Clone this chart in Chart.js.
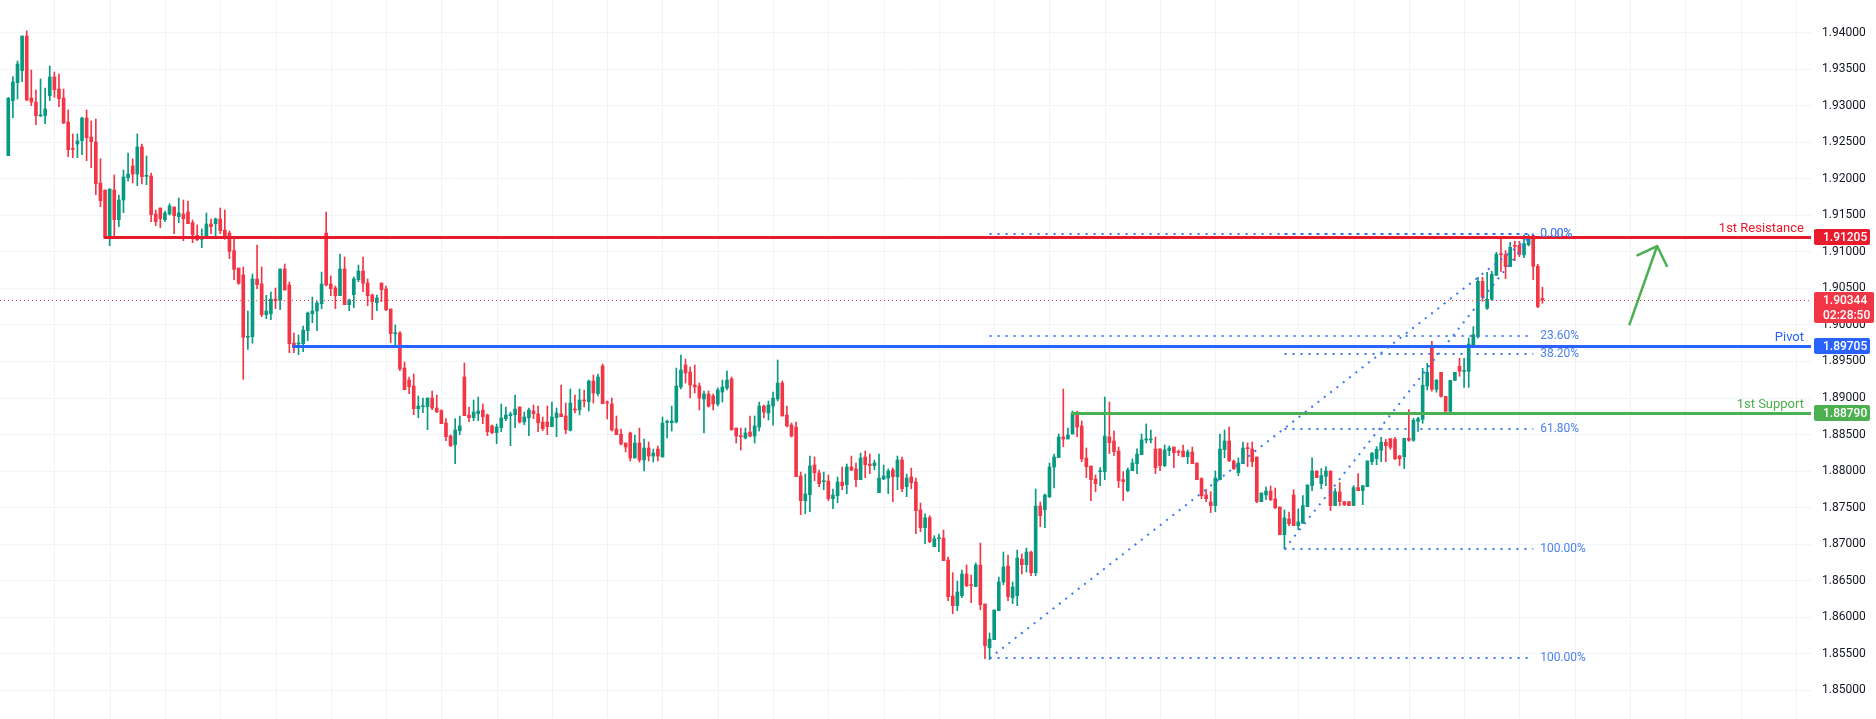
<!DOCTYPE html>
<html>
<head>
<meta charset="utf-8">
<script src="https://cdn.jsdelivr.net/npm/chart.js@4.4.1/dist/chart.umd.min.js"></script>
<style>
html,body{margin:0;padding:0;background:#ffffff;overflow:hidden}
canvas{display:block}
</style>
</head>
<body>
<canvas id="c" width="1876" height="719"></canvas>
<script>
// ---------------- DATA ----------------
const OPEN = [
1.92315,1.93068,1.93314,1.93478,1.93952,1.93104,1.93049,1.92858,1.92862,1.93136,
1.93391,1.93227,1.93104,1.92776,1.92411,1.92475,1.92520,1.92830,1.92570,1.92502,
1.91941,1.91845,1.91207,1.91845,1.91440,1.91709,1.92014,1.92174,1.92064,1.92434,
1.92032,1.92037,1.91517,1.91599,1.91440,1.91517,1.91613,1.91481,1.91517,1.91544,
1.91399,1.91225,1.91171,1.91180,1.91380,1.91385,1.91449,1.91298,1.91257,1.91016,
1.90778,1.90683,1.89830,1.89839,1.90628,1.90560,1.90140,1.90153,1.90354,1.90336,
1.90765,1.90546,1.89752,1.89739,1.89743,1.89921,1.90153,1.90190,1.90290,1.91257,
1.90559,1.90505,1.90400,1.90765,1.90277,1.90413,1.90619,1.90737,1.90573,1.90409,
1.90304,1.90573,1.90491,1.90217,1.89880,1.89889,1.89410,1.89246,1.89164,1.88854,
1.88881,1.88881,1.89000,1.88863,1.88827,1.88658,1.88480,1.88361,1.88553,1.89287,
1.88767,1.88731,1.88785,1.88836,1.88767,1.88617,1.88526,1.88594,1.88717,1.88758,
1.88772,1.88877,1.88671,1.88731,1.88822,1.88781,1.88671,1.88671,1.88608,1.88731,
1.88781,1.88754,1.88557,1.88849,1.88836,1.88972,1.88950,1.89232,1.89059,1.89438,
1.88936,1.88918,1.88576,1.88507,1.88384,1.88521,1.88179,1.88384,1.88152,1.88316,
1.88206,1.88302,1.88193,1.88667,1.88662,1.88671,1.89150,1.89451,1.89355,1.89178,
1.89164,1.88986,1.89055,1.89027,1.88918,1.89082,1.89137,1.89260,1.88589,1.88480,
1.88453,1.88535,1.88480,1.88603,1.88890,1.88795,1.88890,1.88986,1.89205,1.88767,
1.88630,1.88603,1.87933,1.87595,1.87677,1.88083,1.87974,1.87855,1.87864,1.87623,
1.87664,1.87851,1.87814,1.88056,1.88029,1.87883,1.88193,1.88097,1.88074,1.87705,
1.87892,1.87905,1.88015,1.87924,1.88152,1.87787,1.87919,1.87851,1.87468,1.87226,
1.87363,1.86966,1.87075,1.87085,1.86784,1.86291,1.86159,1.86296,1.86592,1.86442,
1.86419,1.86715,1.86182,1.85584,1.85694,1.86091,1.86483,1.86702,1.86268,1.86296,
1.86797,1.86720,1.86893,1.86610,1.87522,1.87472,1.87650,1.88056,1.88184,1.88467,
1.88439,1.88508,1.88795,1.88617,1.88179,1.88070,1.87892,1.87992,1.87992,1.88467,
1.88412,1.88275,1.87883,1.87733,1.88006,1.88102,1.88225,1.88426,1.88426,1.88303,
1.88303,1.88075,1.88280,1.88330,1.88266,1.88275,1.88198,1.88261,1.88111,1.87897,
1.87673,1.87577,1.87527,1.87883,1.88293,1.88412,1.88138,1.87979,1.88102,1.88316,
1.88303,1.88193,1.87582,1.87673,1.87728,1.87619,1.87509,1.87131,1.87345,1.87673,
1.87254,1.87286,1.87514,1.87801,1.88002,1.87828,1.87929,1.88002,1.87528,1.87714,
1.87582,1.87582,1.87528,1.87774,1.87733,1.87787,1.88129,1.88170,1.88284,1.88394,
1.88444,1.88435,1.88207,1.88198,1.88449,1.88421,1.88681,1.88709,1.89165,1.89694,
1.89119,1.89352,1.89023,1.88818,1.89242,1.89434,1.89365,1.89365,1.89721,1.89839,
1.90596,1.90227,1.90350,1.90678,1.90970,1.90961,1.90797,1.91084,1.91089,1.90957,
1.91098,1.91221,1.90802,1.90364
];
const HIGH = [
1.93113,1.93396,1.93610,1.93952,1.94021,1.93487,1.93213,1.93364,1.93241,1.93542,
1.93460,1.93432,1.93227,1.92940,1.92612,1.92612,1.92844,1.92940,1.92789,1.92817,
1.92274,1.91845,1.91859,1.92051,1.91777,1.92119,1.92352,1.92270,1.92612,1.92475,
1.92311,1.92078,1.91572,1.91599,1.91558,1.91658,1.91613,1.91736,1.91709,1.91695,
1.91435,1.91367,1.91312,1.91531,1.91449,1.91462,1.91599,1.91572,1.91285,1.91207,
1.90778,1.90792,1.90190,1.90696,1.91093,1.90792,1.90404,1.90450,1.90505,1.90765,
1.90833,1.90587,1.89889,1.89862,1.89985,1.90176,1.90381,1.90327,1.90723,1.91544,
1.90669,1.90532,1.90970,1.90929,1.90354,1.90655,1.90819,1.90929,1.90628,1.90423,
1.90409,1.90573,1.90532,1.90217,1.89998,1.89907,1.89492,1.89287,1.89328,1.89027,
1.89000,1.89000,1.89096,1.89041,1.88840,1.88717,1.88498,1.88717,1.88754,1.89479,
1.88877,1.88972,1.89013,1.88918,1.88781,1.88630,1.88644,1.88918,1.88877,1.88808,
1.89041,1.88877,1.88808,1.88863,1.88904,1.88890,1.88740,1.88890,1.88945,1.88863,
1.89178,1.88931,1.89123,1.89041,1.89123,1.89109,1.89246,1.89314,1.89328,1.89465,
1.88959,1.89000,1.88754,1.88576,1.88384,1.88535,1.88494,1.88589,1.88439,1.88398,
1.88302,1.88343,1.88740,1.88699,1.88890,1.89410,1.89588,1.89533,1.89424,1.89451,
1.89205,1.89096,1.89096,1.89055,1.89137,1.89246,1.89369,1.89287,1.88589,1.88589,
1.88589,1.88754,1.88754,1.88945,1.88904,1.88959,1.89082,1.89520,1.89232,1.88890,
1.88658,1.88671,1.87987,1.87960,1.88206,1.88193,1.88015,1.87987,1.87946,1.87755,
1.87919,1.88056,1.88097,1.88206,1.88111,1.88247,1.88275,1.88234,1.88152,1.88234,
1.88083,1.88029,1.88042,1.88206,1.88193,1.87960,1.88042,1.87905,1.87563,1.87417,
1.87390,1.87117,1.87139,1.87194,1.86825,1.86610,1.86496,1.86647,1.86715,1.86578,
1.86743,1.87016,1.86182,1.85785,1.86100,1.86551,1.86893,1.86852,1.86483,1.86920,
1.86866,1.86948,1.86907,1.87755,1.87577,1.87687,1.88111,1.88234,1.88508,1.89123,
1.88590,1.88822,1.88822,1.88686,1.88316,1.88070,1.87947,1.88047,1.89014,1.88945,
1.88549,1.88330,1.87992,1.88043,1.88166,1.88303,1.88508,1.88645,1.88562,1.88467,
1.88303,1.88357,1.88344,1.88330,1.88289,1.88357,1.88289,1.88330,1.88111,1.87910,
1.87746,1.87719,1.88002,1.88508,1.88562,1.88603,1.88152,1.88179,1.88398,1.88385,
1.88398,1.88193,1.87701,1.87783,1.87796,1.87769,1.87509,1.87468,1.87441,1.87746,
1.87482,1.87664,1.87810,1.88180,1.88002,1.88034,1.88061,1.88002,1.87760,1.87842,
1.87582,1.87582,1.87801,1.87965,1.87801,1.88139,1.88257,1.88335,1.88462,1.88435,
1.88444,1.88462,1.88216,1.88449,1.88841,1.88722,1.88736,1.89406,1.89475,1.89776,
1.89256,1.89352,1.89023,1.89242,1.89352,1.89543,1.89543,1.89821,1.89976,1.90651,
1.90651,1.90720,1.90733,1.90993,1.91207,1.91016,1.91130,1.91144,1.91144,1.91226,
1.91235,1.91235,1.90829,1.90514
];
const LOW = [
1.92315,1.92835,1.93090,1.93327,1.93068,1.92999,1.92739,1.92849,1.92753,1.93068,
1.93113,1.92985,1.92753,1.92301,1.92288,1.92288,1.92329,1.92247,1.92151,1.91782,
1.91617,1.91193,1.91084,1.91207,1.91344,1.91535,1.91969,1.91941,1.91905,1.91928,
1.91918,1.91412,1.91358,1.91330,1.91412,1.91503,1.91248,1.91399,1.91152,1.91385,
1.91125,1.91152,1.91057,1.91180,1.91248,1.91221,1.91248,1.91171,1.90906,1.90619,
1.90555,1.89255,1.89666,1.89748,1.90496,1.90113,1.90085,1.90071,1.90222,1.90208,
1.90477,1.89620,1.89620,1.89593,1.89634,1.89784,1.90030,1.89921,1.90222,1.90532,
1.90400,1.90222,1.90400,1.90277,1.90195,1.90236,1.90591,1.90454,1.90263,1.90071,
1.90195,1.90318,1.90195,1.89757,1.89716,1.89374,1.89114,1.89059,1.88772,1.88731,
1.88799,1.88567,1.88840,1.88799,1.88649,1.88416,1.88334,1.88101,1.88498,1.88758,
1.88676,1.88690,1.88690,1.88649,1.88485,1.88512,1.88375,1.88539,1.88690,1.88348,
1.88594,1.88658,1.88635,1.88485,1.88717,1.88539,1.88553,1.88498,1.88608,1.88471,
1.88744,1.88512,1.88548,1.88795,1.88767,1.88877,1.88822,1.88931,1.89027,1.88922,
1.88713,1.88548,1.88498,1.88357,1.88261,1.88138,1.88179,1.88124,1.88001,1.88138,
1.88124,1.88138,1.88193,1.88453,1.88548,1.88658,1.89123,1.89205,1.89000,1.89068,
1.88836,1.88521,1.88877,1.88836,1.88890,1.88945,1.89109,1.88557,1.88384,1.88288,
1.88439,1.88466,1.88384,1.88548,1.88726,1.88699,1.88630,1.88959,1.88754,1.88603,
1.88466,1.87924,1.87404,1.87417,1.87445,1.87869,1.87787,1.87746,1.87595,1.87486,
1.87568,1.87746,1.87691,1.88006,1.87787,1.87883,1.87910,1.87965,1.88019,1.87705,
1.87883,1.87691,1.87582,1.87746,1.87718,1.87650,1.87759,1.87144,1.87171,1.87007,
1.87021,1.86966,1.86898,1.86775,1.86227,1.86049,1.86091,1.86268,1.86419,1.86200,
1.86419,1.86104,1.85434,1.85420,1.85694,1.86091,1.86446,1.86227,1.86186,1.86159,
1.86592,1.86619,1.86569,1.86569,1.87240,1.87226,1.87636,1.87769,1.88184,1.88334,
1.88439,1.88508,1.88471,1.88129,1.87910,1.87596,1.87719,1.87801,1.87883,1.88239,
1.88211,1.87774,1.87596,1.87719,1.88006,1.87965,1.88225,1.88385,1.88385,1.87965,
1.88006,1.88061,1.88211,1.88047,1.88211,1.88193,1.88102,1.88102,1.87883,1.87623,
1.87582,1.87432,1.87445,1.87878,1.88184,1.88129,1.88020,1.87938,1.88102,1.88061,
1.88061,1.87568,1.87582,1.87609,1.87596,1.87486,1.87131,1.86939,1.87254,1.87254,
1.87199,1.87286,1.87514,1.87733,1.87911,1.87760,1.87801,1.87459,1.87528,1.87528,
1.87528,1.87528,1.87528,1.87733,1.87541,1.87787,1.88088,1.88088,1.88129,1.88129,
1.88298,1.88157,1.88075,1.88034,1.88408,1.88408,1.88544,1.88654,1.89110,1.89092,
1.89078,1.89010,1.88818,1.88777,1.89242,1.89297,1.89146,1.89146,1.89721,1.89817,
1.90323,1.90213,1.90336,1.90678,1.90733,1.90633,1.90797,1.90879,1.90934,1.90920,
1.91080,1.90619,1.90236,1.90295
];
const CLOSE = [
1.93099,1.93323,1.93569,1.93952,1.93077,1.93049,1.92862,1.92867,1.92954,1.93391,
1.93218,1.93095,1.92762,1.92397,1.92402,1.92516,1.92830,1.92561,1.92507,1.91932,
1.91700,1.91207,1.91859,1.91440,1.91709,1.92023,1.92064,1.92064,1.92434,1.92028,
1.92042,1.91508,1.91412,1.91453,1.91531,1.91627,1.91494,1.91531,1.91453,1.91385,
1.91234,1.91166,1.91189,1.91380,1.91344,1.91449,1.91289,1.91184,1.91006,1.90760,
1.90569,1.89830,1.89839,1.90628,1.90550,1.90140,1.90190,1.90354,1.90331,1.90765,
1.90477,1.89743,1.89688,1.89752,1.89930,1.90163,1.90190,1.90299,1.90559,1.90546,
1.90495,1.90400,1.90765,1.90277,1.90340,1.90628,1.90737,1.90568,1.90400,1.90318,
1.90368,1.90482,1.90208,1.89880,1.89889,1.89401,1.89114,1.89155,1.88854,1.88890,
1.88890,1.89000,1.88863,1.88813,1.88649,1.88471,1.88348,1.88562,1.88617,1.88758,
1.88731,1.88808,1.88822,1.88744,1.88539,1.88526,1.88603,1.88726,1.88767,1.88781,
1.88849,1.88671,1.88740,1.88836,1.88785,1.88662,1.88580,1.88608,1.88740,1.88795,
1.88744,1.88567,1.88931,1.88836,1.88972,1.88959,1.89232,1.89068,1.89287,1.88922,
1.88931,1.88562,1.88498,1.88371,1.88329,1.88179,1.88384,1.88152,1.88316,1.88206,
1.88247,1.88206,1.88658,1.88676,1.88685,1.89164,1.89383,1.89342,1.89178,1.89150,
1.89000,1.89055,1.88886,1.88918,1.89109,1.89150,1.89246,1.88567,1.88480,1.88471,
1.88521,1.88480,1.88617,1.88890,1.88808,1.88904,1.89000,1.89205,1.88754,1.88617,
1.88480,1.87924,1.87595,1.87687,1.88070,1.87978,1.87828,1.87869,1.87623,1.87673,
1.87851,1.87801,1.88056,1.88015,1.87883,1.88179,1.88088,1.88074,1.88111,1.87905,
1.87933,1.88001,1.87924,1.88152,1.87759,1.87905,1.87842,1.87459,1.87226,1.87363,
1.87034,1.87075,1.87085,1.86775,1.86282,1.86159,1.86346,1.86592,1.86433,1.86433,
1.86715,1.86173,1.85612,1.85703,1.86100,1.86483,1.86688,1.86282,1.86414,1.86811,
1.86720,1.86893,1.86610,1.87522,1.87390,1.87673,1.88056,1.88193,1.88467,1.88439,
1.88494,1.88795,1.88603,1.88166,1.88061,1.87883,1.87828,1.88006,1.88480,1.88389,
1.88266,1.87869,1.87856,1.88015,1.88111,1.88234,1.88426,1.88439,1.88439,1.88047,
1.88075,1.88289,1.88316,1.88252,1.88257,1.88198,1.88261,1.88102,1.87883,1.87664,
1.87623,1.87527,1.87906,1.88303,1.88412,1.88143,1.88033,1.88111,1.88316,1.88307,
1.88129,1.87582,1.87701,1.87728,1.87609,1.87500,1.87131,1.87359,1.87281,1.87254,
1.87304,1.87528,1.87810,1.88002,1.87911,1.87938,1.88002,1.87528,1.87719,1.87582,
1.87541,1.87528,1.87774,1.87733,1.87801,1.88139,1.88243,1.88298,1.88394,1.88348,
1.88326,1.88170,1.88170,1.88449,1.88421,1.88695,1.88718,1.89174,1.89352,1.89119,
1.89242,1.89023,1.88818,1.89242,1.89352,1.89365,1.89379,1.89739,1.89867,1.90596,
1.90378,1.90350,1.90692,1.90966,1.90961,1.90797,1.91061,1.91075,1.90966,1.91112,
1.91207,1.90802,1.90250,1.90344
];

// price-axis tick values and the bar positions where time grid lines fall
const Y_TICKS = [1.85,1.855,1.86,1.865,1.87,1.875,1.88,1.885,1.89,1.895,1.90,1.905,1.91,1.915,1.92,1.925,1.93,1.935,1.94];
const TIME_GRID = [10,22,34,46,58,70,82,94,106,118,130,142,154,166,178,190,202,214,226,238,250,262,280,292,304,316,328,340,352,364,376,388];

// horizontal levels (drawn from a bar index to the right edge)
const LEVEL_NAMES  = ['1st Resistance','Pivot','1st Support'];
const LEVEL_PRICES = [1.91205, 1.89705, 1.88790];
const LEVEL_FROM   = [21, 62, 231];

const LAST_PRICE = 1.90344;
const COUNTDOWN  = '02:28:50';

// fibonacci retracements: [start bar, end bar], level prices, level labels
const FIB1_BARS   = [213, 331];
const FIB1_PRICES = [1.91239, 1.89848, 1.85440];
const FIB1_LABELS = ['0.00%','23.60%','100.00%'];
const FIB2_BARS   = [277, 331];
const FIB2_PRICES = [1.91239, 1.89606, 1.88576, 1.86934];
const FIB2_LABELS = ['0.00%','38.20%','61.80%','100.00%'];

// arrow drawing: tail, head, left wing, right wing (bar index / price)
const ARROW_BARS   = [351.9, 357.9, 353.6, 360.0];
const ARROW_PRICES = [1.90008, 1.91079, 1.90952, 1.90806];

// ---------------- STYLE ----------------
const UP = '#089981', DOWN = '#f23645';
const RES_C = '#e91a2b', PIV_C = '#2962ff', SUP_C = '#4caf50';
const LEVEL_COLORS = [RES_C, PIV_C, SUP_C];
const FIB_LINE = '#3a78f3', FIB_TEXT = '#4d80f0';
const GRID = '#f0f3fa';
const FONT = 'Roboto, "Liberation Sans", Arial, sans-serif';
const BAR_PX = 4.607, FIRST_PX = 8.3, AXIS_W = 65, CANVAS_W = 1876;
const X_MIN = -FIRST_PX / BAR_PX;
const X_MAX = X_MIN + (CANVAS_W - AXIS_W) / BAR_PX;
const Y_MAX = 1.94 + 32.5 / 7310;
const Y_MIN = Y_MAX - 719 / 7310;

Chart.defaults.font.family = FONT;

const idx = CLOSE.map((_, i) => i);
const colorOf = i => (CLOSE[i] >= OPEN[i] ? UP : DOWN);

const overlay = {
  id: 'overlay',
  beforeDatasetsDraw(chart) {
    const { ctx, chartArea: a, scales: { x } } = chart;
    ctx.save();
    ctx.strokeStyle = GRID; ctx.lineWidth = 1;
    TIME_GRID.forEach(t => {
      const px = Math.round(x.getPixelForValue(t)) + 0.5;
      if (px > a.right) return;
      ctx.beginPath(); ctx.moveTo(px, a.top); ctx.lineTo(px, a.bottom); ctx.stroke();
    });
    ctx.restore();
  },
  afterDatasetsDraw(chart) {
    const { ctx, chartArea: a, scales: { x, y } } = chart;
    const Y = p => y.getPixelForValue(p);
    const X = b => x.getPixelForValue(b);
    ctx.save();

    // last price dotted line
    ctx.strokeStyle = DOWN; ctx.lineWidth = 1; ctx.setLineDash([1, 3]);
    let py = Math.round(Y(LAST_PRICE)) + 0.5;
    ctx.beginPath(); ctx.moveTo(a.left, py); ctx.lineTo(a.right, py); ctx.stroke();
    ctx.setLineDash([]);

    // support / resistance levels
    ctx.lineWidth = 3;
    LEVEL_PRICES.forEach((p, k) => {
      const yy = Math.round(Y(p)) + 0.5;
      ctx.strokeStyle = LEVEL_COLORS[k];
      ctx.beginPath(); ctx.moveTo(X(LEVEL_FROM[k]) - 1.5, yy); ctx.lineTo(a.right, yy); ctx.stroke();
      ctx.fillStyle = LEVEL_COLORS[k];
      ctx.font = '13px ' + FONT;
      ctx.textAlign = 'right'; ctx.textBaseline = 'alphabetic';
      ctx.fillText(LEVEL_NAMES[k], a.right - 7, yy - 6);
    });

    // fibonacci tools
    const drawFib = (bars, prices, labels) => {
      const x0 = X(bars[0]), x1 = X(bars[1]);
      ctx.strokeStyle = FIB_LINE; ctx.lineWidth = 2; ctx.setLineDash([2, 6]);
      prices.forEach(p => {
        const yy = Math.round(Y(p));
        ctx.beginPath(); ctx.moveTo(x0, yy); ctx.lineTo(x1, yy); ctx.stroke();
      });
      ctx.beginPath();
      ctx.moveTo(x0, Y(prices[prices.length - 1]));
      ctx.lineTo(x1, Y(prices[0]));
      ctx.stroke();
      ctx.setLineDash([]);
      ctx.fillStyle = FIB_TEXT; ctx.font = '12px ' + FONT;
      ctx.textAlign = 'left'; ctx.textBaseline = 'middle';
      prices.forEach((p, k) => ctx.fillText(labels[k], x1 + 7, Y(p)));
    };
    drawFib(FIB1_BARS, FIB1_PRICES, FIB1_LABELS);
    drawFib(FIB2_BARS, FIB2_PRICES, FIB2_LABELS);

    // arrow
    const P = k => [X(ARROW_BARS[k]), Y(ARROW_PRICES[k])];
    ctx.strokeStyle = SUP_C; ctx.lineWidth = 2.5; ctx.lineCap = 'round'; ctx.lineJoin = 'round';
    ctx.beginPath();
    ctx.moveTo(...P(0)); ctx.lineTo(...P(1));
    ctx.moveTo(...P(2)); ctx.lineTo(...P(1)); ctx.lineTo(...P(3));
    ctx.stroke();
    ctx.lineCap = 'butt';

    // price-axis labels
    const box = (p, bg, lines, w) => {
      const cy = Y(p);
      const h = 16 + (lines.length - 1) * 15;
      const top = Math.round(cy - 8);
      ctx.fillStyle = bg;
      ctx.beginPath();
      if (ctx.roundRect) ctx.roundRect(a.right + 3, top, w, h, 2); else ctx.rect(a.right + 3, top, w, h);
      ctx.fill();
      ctx.fillStyle = '#ffffff'; ctx.font = '500 12px ' + FONT;
      ctx.textAlign = 'left'; ctx.textBaseline = 'middle';
      lines.forEach((t, k) => ctx.fillText(t, a.right + 12, top + 8.5 + k * 15));
    };
    box(LEVEL_PRICES[0], RES_C, [LEVEL_PRICES[0].toFixed(5)], 56);
    box(LAST_PRICE, DOWN, [LAST_PRICE.toFixed(5), COUNTDOWN], 60);
    box(LEVEL_PRICES[1], PIV_C, [LEVEL_PRICES[1].toFixed(5)], 56);
    box(LEVEL_PRICES[2], SUP_C, [LEVEL_PRICES[2].toFixed(5)], 56);

    ctx.restore();
  }
};

new Chart(document.getElementById('c'), {
  type: 'bar',
  data: {
    datasets: [
      {
        label: 'body',
        data: idx.map(i => ({ x: i, y: [Math.min(OPEN[i], CLOSE[i]), Math.max(OPEN[i], CLOSE[i])] })),
        backgroundColor: ctx => colorOf(ctx.dataIndex),
        maxBarThickness: 3,
        minBarLength: 1
      },
      {
        label: 'wick',
        data: idx.map(i => ({ x: i, y: [LOW[i], HIGH[i]] })),
        backgroundColor: ctx => colorOf(ctx.dataIndex),
        maxBarThickness: 1,
        minBarLength: 1
      }
    ]
  },
  options: {
    responsive: false,
    animation: false,
    devicePixelRatio: 1,
    layout: { padding: 0 },
    datasets: { bar: { grouped: false, borderWidth: 0, borderSkipped: false, barPercentage: 1, categoryPercentage: 1 } },
    plugins: { legend: { display: false }, tooltip: { enabled: false } },
    scales: {
      x: { type: 'linear', min: X_MIN, max: X_MAX, offset: false, bounds: 'ticks', display: false },
      y: {
        position: 'right',
        min: Y_MIN, max: Y_MAX,
        afterBuildTicks: s => { s.ticks = Y_TICKS.map(v => ({ value: v })); },
        afterFit: s => { s.width = AXIS_W; s.paddingTop = 0; s.paddingBottom = 0; },
        grid: { color: GRID, drawTicks: false },
        border: { display: false },
        ticks: { padding: 11, color: '#131722', font: { size: 12 }, callback: v => Number(v).toFixed(5) }
      }
    }
  },
  plugins: [overlay]
});
</script>
</body>
</html>
